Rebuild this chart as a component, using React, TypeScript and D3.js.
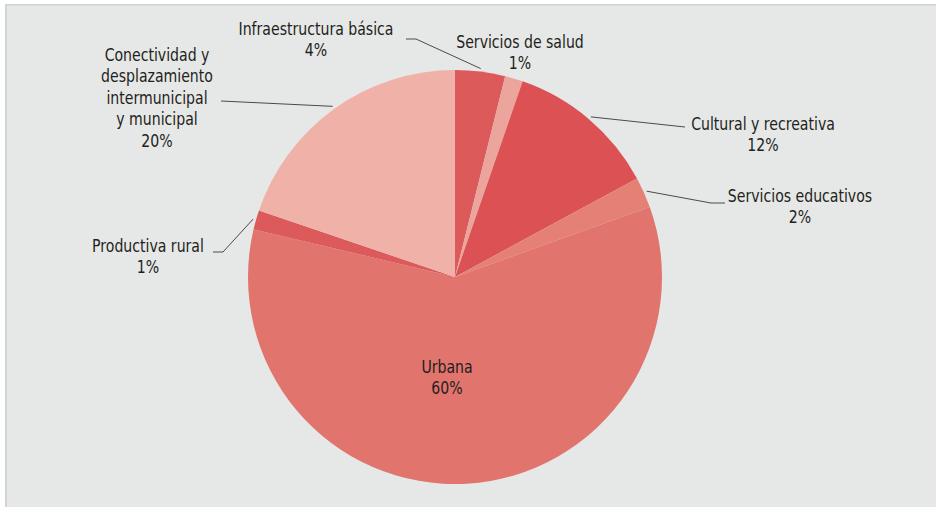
import React from "react";
import * as d3 from "d3";

const categories = [
  "Infraestructura básica",
  "Servicios de salud",
  "Cultural y recreativa",
  "Servicios educativos",
  "Urbana",
  "Productiva rural",
  "Conectividad y desplazamiento intermunicipal y municipal",
];
const values = [3.9, 1.4, 11.8, 2.4, 59.2, 1.5, 19.8];
const percentLabels = ["4%", "1%", "12%", "2%", "60%", "1%", "20%"];
const labelLines = [
  ["Infraestructura básica"],
  ["Servicios de salud"],
  ["Cultural y recreativa"],
  ["Servicios educativos"],
  ["Urbana"],
  ["Productiva rural"],
  ["Conectividad y", "desplazamiento", "intermunicipal", "y municipal"],
];
const colors = ["#dc5a5a", "#eca59c", "#dc5254", "#e58075", "#e1746c", "#dc5a5a", "#f0b1a8"];

// layout: label anchor (center x, first baseline y) and leader path points (from label side)
const layout: { x: number; y: number; leader: [number, number][] | null }[] = [
  { x: 316, y: 35, leader: [[406, 39], [416, 39]] },
  { x: 520, y: 48, leader: null },
  { x: 763, y: 130, leader: [[685, 127]] },
  { x: 800, y: 202, leader: [[725, 203], [711, 203]] },
  { x: 447, y: 373, leader: null },
  { x: 148, y: 252, leader: [[213, 252], [223, 252]] },
  { x: 157, y: 61, leader: [[221, 101]] },
];

const W = 936;
const H = 507;
const cx = 455;
const cy = 277;
const R = 207;
const FONT = "'DejaVu Sans Condensed', 'DejaVu Sans', sans-serif";
const SX = 0.87;

export default function App() {
  const pie = d3
    .pie<number>()
    .sort(null)
    .value((d) => d)
    .startAngle(0)
    .endAngle(2 * Math.PI);
  const arcs = pie(values);
  const arc = d3.arc<d3.PieArcDatum<number>>().innerRadius(0).outerRadius(R);
  const edgeArc = d3.arc<d3.PieArcDatum<number>>().innerRadius(R + 3).outerRadius(R + 3);
  const lineGen = d3.line();

  return (
    <svg
      width={W}
      height={H}
      style={{ position: "absolute", left: 0, top: 0, background: "#ffffff" }}
    >
      <rect x={5} y={4} width={W - 5} height={H - 4} fill="#e6e8e7" />
      <line x1={5} y1={4.75} x2={W} y2={4.75} stroke="#d2d3d3" strokeWidth={1.5} />
      <line x1={6} y1={4} x2={6} y2={H} stroke="#d2d3d3" strokeWidth={2} />
      <g transform={`translate(${cx},${cy})`}>
        {arcs.map((a, i) => (
          <path key={categories[i]} d={arc(a) || ""} fill={colors[i]} />
        ))}
      </g>
      {arcs.map((a, i) => {
        const L = layout[i];
        if (!L.leader) return null;
        const [ex, ey] = edgeArc.centroid(a);
        const pts: [number, number][] = [...L.leader, [cx + ex, cy + ey]];
        return (
          <path
            key={"l" + i}
            d={lineGen(pts) || ""}
            fill="none"
            stroke="#4a4a4a"
            strokeWidth={1}
          />
        );
      })}
      {arcs.map((a, i) => {
        const L = layout[i];
        const lines = [...labelLines[i], percentLabels[i]];
        return (
          <g key={"t" + i} transform={`translate(${L.x},${L.y}) scale(${SX},1)`}>
            <text
              textAnchor="middle"
              fontFamily={FONT}
              fontSize={18}
              fill="#231f20"
            >
              {lines.map((t, j) => (
                <tspan key={j} x={0} y={j * 21.5}>
                  {t}
                </tspan>
              ))}
            </text>
          </g>
        );
      })}
    </svg>
  );
}
